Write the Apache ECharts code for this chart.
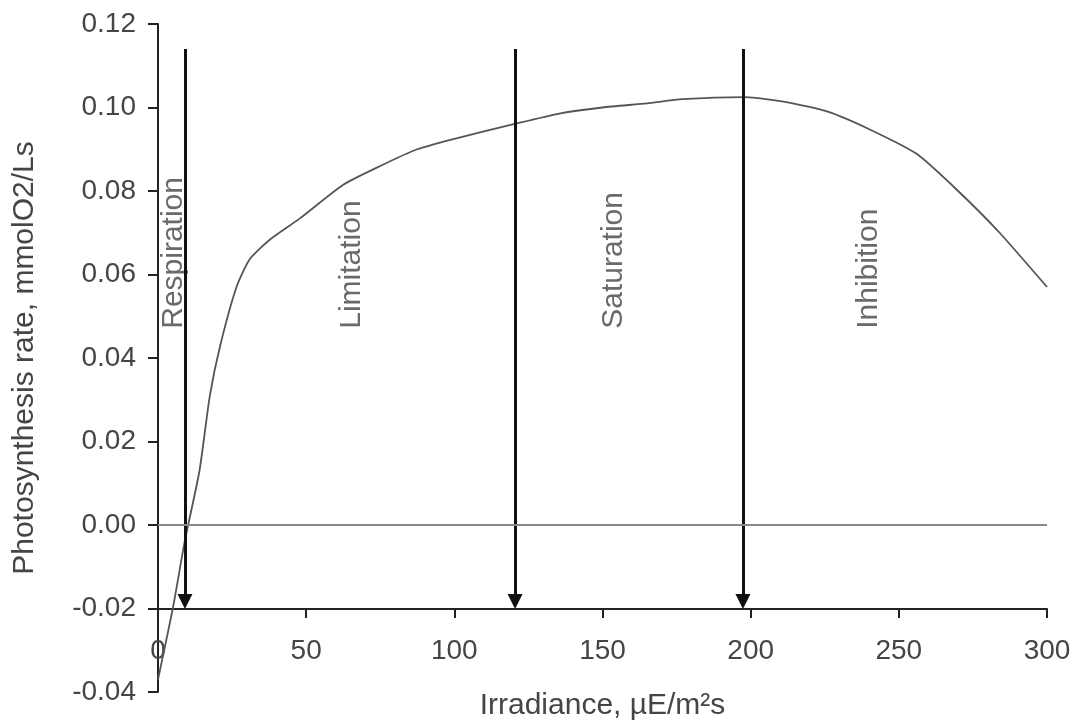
<!DOCTYPE html>
<html>
<head>
<meta charset="utf-8">
<script src="https://cdn.jsdelivr.net/npm/echarts@6/dist/echarts.min.js"></script>
<style>html,body{margin:0;padding:0;background:#fff}#c{width:1079px;height:726px}</style>
</head>
<body>
<div id="c"></div>
<script>
// Curve data (irradiance vs photosynthesis rate)
const irradiance = [0, 5, 9, 14, 17.5, 21, 26.5, 31, 38, 48, 62.5, 75, 87.5, 100, 120, 135, 150, 165, 177, 198, 212, 226, 240, 256, 270, 284, 300];
const rate = [-0.037, -0.02, -0.004, 0.013, 0.031, 0.043, 0.057, 0.0637, 0.0685, 0.0735, 0.0815, 0.086, 0.090, 0.0925, 0.096, 0.0985, 0.100, 0.101, 0.102, 0.1025, 0.1013, 0.099, 0.0948, 0.0889, 0.080, 0.070, 0.057];
// Arrows marking region boundaries
const arrowX = [9.1, 120.5, 197.4];
const arrowTop = 0.114;
const arrowEnd = -0.0183;
// Region labels
const regionNames = ['Respiration', 'Limitation', 'Saturation', 'Inhibition'];
const regionX = [5.4, 65.5, 153.9, 240];
const regionY = 0.047;
// Axis settings
const xMin = 0, xMax = 300, xStep = 50;
const yMin = -0.04, yMax = 0.12, yStep = 0.02;
const xAxisCross = -0.02;

const font = 'Liberation Sans, Arial, sans-serif';
const txt = '#454545';

const chart = echarts.init(document.getElementById('c'));
chart.setOption({
  animation: false,
  backgroundColor: '#fff',
  grid: [
    {left: 158, right: 32, top: 24, bottom: 34},
    {left: 158, right: 32, top: 24, bottom: 117}
  ],
  xAxis: [
    {gridIndex: 0, type: 'value', min: xMin, max: xMax, interval: xStep, show: false},
    {gridIndex: 1, type: 'value', min: xMin, max: xMax, interval: xStep,
      name: 'Irradiance, \u00B5E/m\u00B2s', nameLocation: 'middle', nameGap: 82,
      nameTextStyle: {fontFamily: font, fontSize: 30, color: txt},
      axisLine: {show: true, onZero: false, lineStyle: {color: '#222', width: 2}},
      axisTick: {show: true, length: 9, lineStyle: {color: '#222', width: 2}},
      axisLabel: {fontFamily: font, fontSize: 28, color: txt, margin: 28},
      splitLine: {show: false}}
  ],
  yAxis: [
    {gridIndex: 0, type: 'value', min: yMin, max: yMax, interval: yStep,
      name: 'Photosynthesis rate, mmolO2/Ls', nameLocation: 'middle', nameGap: 118,
      nameTextStyle: {fontFamily: font, fontSize: 30, color: txt},
      axisLine: {show: true, onZero: false, lineStyle: {color: '#222', width: 2}},
      axisTick: {show: true, length: 10, lineStyle: {color: '#222', width: 2}},
      axisLabel: {fontFamily: font, fontSize: 28, color: txt, margin: 22,
        formatter: v => v.toFixed(2)},
      splitLine: {show: false}},
    {gridIndex: 1, type: 'value', min: xAxisCross, max: yMax, show: false}
  ],
  series: [
    {
      type: 'line', xAxisIndex: 0, yAxisIndex: 0,
      data: irradiance.map((x, i) => [x, rate[i]]),
      showSymbol: false, smooth: 0.2,
      lineStyle: {color: '#555', width: 1.8},
      z: 3,
      markLine: {
        silent: true, symbol: ['none', 'triangle'], symbolSize: 15,
        label: {show: false},
        lineStyle: {color: '#111', width: 3, type: 'solid'},
        itemStyle: {color: '#111'},
        emphasis: {disabled: true},
        data: arrowX.map(x => [{coord: [x, arrowTop]}, {coord: [x, arrowEnd]}])
      }
    },
    {
      type: 'scatter', xAxisIndex: 0, yAxisIndex: 0,
      symbolSize: 0, silent: true,
      data: regionX.map((x, i) => [x, regionY, regionNames[i]]),
      label: {show: true, formatter: p => p.data[2], rotate: 90, position: [0, 0],
        align: 'left', verticalAlign: 'middle',
        fontFamily: font, fontSize: 30, color: txt},
      markLine: {
        silent: true, symbol: 'none', label: {show: false},
        lineStyle: {color: '#888', width: 2, type: 'solid'},
        emphasis: {disabled: true},
        data: [{yAxis: 0}]
      }
    }
  ]
});
</script>
</body>
</html>
